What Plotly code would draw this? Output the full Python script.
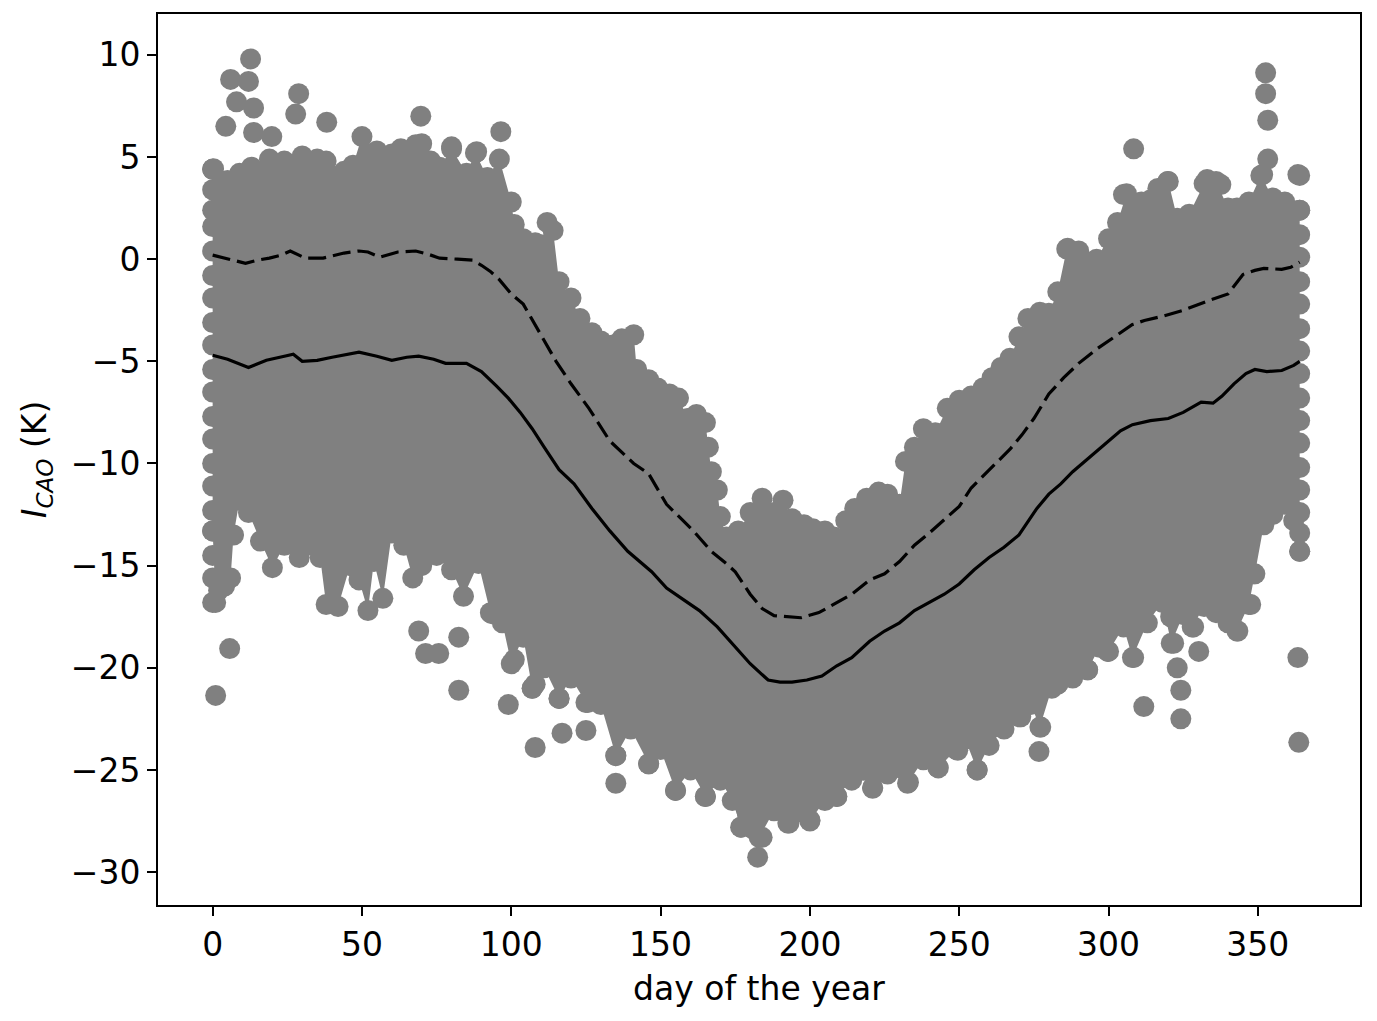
"""Daily I_CAO scatter with the climatological mean (solid) and mean + 1 std (dashed)."""
import plotly.graph_objects as go

GRAY = "#808080"
FONT = "DejaVu Sans"

# upper / lower edge of the dense cloud of daily values (K)
UP_DAY = [0, 2, 5, 9, 13, 19, 24, 30, 35, 38, 44, 47, 50, 55, 60, 63, 68, 73, 76, 80,
          85, 88, 92, 96, 100, 101, 104, 108, 110, 112, 114, 116, 120, 123, 127, 130, 134, 137, 141, 142,
          146, 149, 153, 156, 159, 162, 165, 166, 167, 169, 170, 172, 176, 180, 184, 188, 191, 194, 198, 201,
          205, 208, 212, 215, 219, 223, 226, 230, 232, 235, 238, 242, 246, 250, 254, 258, 261, 264, 267, 270,
          273, 277, 280, 283, 286, 290, 293, 296, 300, 303, 306, 309, 311, 314, 317, 320, 323, 327, 332, 336,
          340, 343, 347, 351, 355, 359, 364]
UP_VAL = [4.4, 3.5, 3.85, 4.2, 4.5, 4.9, 4.8, 5.05, 4.9, 4.8, 4.3, 4.6, 6.0, 5.3, 5.15, 5.4, 5.6, 4.8, 4.5, 5.4,
          4.2, 5.2, 4.0, 4.9, 2.8, 1.7, 1.0, 0.8, 0.7, 1.8, 1.4, -1.1, -1.9, -2.9, -3.6, -4.0, -4.2, -3.9, -3.7, -5.4,
          -5.9, -6.3, -6.6, -6.8, -7.8, -7.6, -8.0, -9.2, -10.4, -11.3, -12.6, -13.6, -13.3, -12.4, -11.7, -12.4, -11.8, -12.7, -13.0, -13.2,
          -13.3, -13.6, -12.8, -12.2, -11.7, -11.4, -11.5, -12.0, -9.9, -9.2, -8.3, -8.5, -7.3, -6.9, -6.7, -6.3, -5.8, -5.3, -4.85, -3.8,
          -2.9, -2.6, -2.65, -1.6, 0.5, 0.4, -0.2, 0.0, 1.0, 1.8, 3.2, 2.6, 2.8, 2.9, 3.4, 3.8, 2.0, 2.2, 3.7, 3.8,
          2.5, 2.5, 2.8, 4.1, 3.0, 2.8, 2.4]

LOW_DAY = [0, 1, 4, 6, 7, 9, 12, 16, 20, 24, 29, 33, 36, 38, 42, 46, 49, 52, 54, 57, 60,
           64, 67, 70, 75, 80, 84, 89, 93, 97, 100, 104, 107, 111, 116, 120, 125, 130, 135, 140, 146,
           150, 155, 160, 165, 170, 174, 177, 183, 188, 193, 200, 205, 209, 214, 218, 221, 226, 233, 238, 243,
           249, 252, 256, 260, 265, 270, 274, 277, 281, 283, 288, 293, 297, 300, 305, 308, 313, 318, 321, 325,
           328, 332, 336, 340, 343, 347, 349, 352, 355, 359, 362, 364]
LOW_VAL = [-13.3, -16.8, -16.0, -15.6, -13.5, -11.8, -12.4, -13.8, -15.1, -14.0, -14.6, -14.0, -14.6, -16.9, -17.0, -15.0, -15.7, -17.2, -14.8, -16.6, -13.4,
           -14.0, -15.6, -15.0, -14.5, -15.2, -16.5, -14.9, -17.3, -17.8, -19.8, -18.5, -21.0, -20.0, -21.5, -20.5, -21.7, -21.8, -24.3, -23.0, -24.7,
           -24.0, -26.0, -25.0, -26.3, -25.5, -26.5, -27.8, -28.3, -27.0, -27.6, -27.5, -26.5, -26.3, -25.5, -25.0, -25.9, -25.2, -25.6, -24.5, -24.9,
           -24.0, -23.5, -25.0, -23.8, -23.0, -22.4, -21.8, -22.9, -21.0, -20.8, -20.5, -20.1, -19.0, -19.2, -18.0, -19.5, -17.8, -16.8, -18.8, -17.4,
           -18.0, -17.0, -17.3, -17.8, -18.2, -16.9, -15.4, -13.0, -12.5, -12.0, -12.8, -14.3]

# first and last day of the year are full columns of points
FIRST_DAY_VAL = [4.4, 3.4, 2.4, 1.6, 0.4, -0.8, -1.9, -3.1, -4.2, -5.4, -6.5, -7.7, -8.8, -10.0, -11.1, -12.3, -13.3,
                 -14.5, -15.6, -16.8]
LAST_DAY_VAL = [4.1, 2.4, 1.2, 0.1, -1.1, -2.2, -3.4, -4.5, -5.6, -6.8, -7.9, -9.0, -10.2, -11.3, -12.4, -13.4, -14.3]

# isolated points sticking out of the cloud
OUT_DAY = [12.7, 6, 12, 8, 13.7, 4.4, 13.7, 19.8, 28.8, 27.8, 38.2, 69.7, 70, 80, 88.4, 96.5, 0.3,
           308.4, 305, 352.6, 352.6, 353.3, 353.3, 351.6, 363.4, 333, 337.6, 316.5, 319.8, 286.3,
           1, 5.7, 2, 69, 71.3, 75.7, 82.4, 82.4, 93.4, 99, 108, 108, 117, 125, 125.6, 101, 107, 116,
           135, 135, 146, 155, 165, 176.8, 179, 181, 184, 182.5,
           192.6, 200, 209, 218, 221, 232.7, 242.8, 249.5,
           256, 276.7, 277.3, 270.6, 283, 293, 299.7, 308.4, 311.8, 324.2, 324.2, 323, 321.8, 330.2, 320.8, 328.5,
           343.3, 347.6, 348.6, 363.4, 363.7]
OUT_VAL = [9.8, 8.8, 8.7, 7.7, 7.4, 6.5, 6.2, 6.0, 8.1, 7.1, 6.7, 7.0, 5.65, 5.5, 5.26, 6.24, 4.43,
           5.4, 3.16, 9.12, 8.1, 6.8, 4.9, 4.14, 4.14, 3.9, 3.65, 3.46, 3.8, 0.53,
           -21.35, -19.06, -16.2, -18.2, -19.3, -19.3, -18.5, -21.1, -17.35, -21.8, -20.8, -23.9, -23.2, -23.07, -21.7, -19.6, -21.0, -21.5,
           -24.3, -25.65, -24.7, -26.0, -26.3, -27.8, -27.1, -27.9, -28.3, -29.27,
           -27.6, -27.46, -26.3, -25.0, -25.85, -25.65, -24.87, -24.04,
           -25.0, -24.1, -22.9, -22.4, -20.8, -20.1, -19.2, -19.5, -21.9, -22.5, -21.1, -20.0, -18.8, -19.2, -17.5, -18.0,
           -18.2, -16.9, -15.4, -19.5, -23.65]

# daily climatology: mean and mean + 1 standard deviation
MEAN_DAY = [0, 5, 12, 18, 24, 27, 30, 35, 40, 45, 49, 55, 60, 65, 69, 74, 78, 85, 90, 95,
            99, 103, 107, 111, 116, 121, 127, 133, 139, 147, 152, 158, 163, 169, 175, 180, 186, 190, 194, 199,
            204, 209, 214, 220, 225, 230, 235, 240, 245, 250, 255, 260, 265, 270, 276, 280, 284, 288, 292, 296,
            300, 304, 308, 314, 320, 325, 331, 335, 338, 342, 346, 349, 353, 358, 362, 364]
MEAN_VAL = [-4.7, -4.9, -5.3, -4.95, -4.75, -4.65, -5.0, -4.95, -4.8, -4.65, -4.55, -4.75, -4.95, -4.8, -4.75, -4.9, -5.1, -5.1, -5.5, -6.2,
            -6.8, -7.5, -8.3, -9.2, -10.3, -11.0, -12.2, -13.3, -14.3, -15.3, -16.1, -16.7, -17.2, -18.0, -19.0, -19.8, -20.6, -20.7, -20.7, -20.6,
            -20.4, -19.9, -19.5, -18.7, -18.2, -17.8, -17.2, -16.8, -16.4, -15.9, -15.2, -14.6, -14.1, -13.5, -12.2, -11.5, -11.0, -10.4, -9.9, -9.4,
            -8.9, -8.4, -8.1, -7.9, -7.8, -7.5, -7.0, -7.05, -6.7, -6.1, -5.6, -5.4, -5.5, -5.45, -5.2, -5.0]

STD_DAY = [0, 6, 11, 15, 19, 23, 26, 31, 37, 44, 49, 52, 56, 62, 68, 72, 76, 82, 87, 90,
           93, 96, 100, 104, 109, 115, 120, 126, 133, 141, 146, 152, 161, 167, 172, 175, 180, 184, 188, 193,
           197, 203, 208, 214, 220, 225, 230, 235, 240, 247, 250, 254, 258, 262, 267, 271, 275, 280, 285, 290,
           296, 302, 308, 312, 318, 325, 330, 334, 340, 345, 349, 352, 358, 361, 364]
STD_VAL = [0.2, 0.0, -0.2, -0.05, 0.05, 0.2, 0.4, 0.05, 0.05, 0.3, 0.4, 0.35, 0.1, 0.35, 0.4, 0.25, 0.05, 0.0, -0.05, -0.3,
           -0.6, -1.0, -1.7, -2.2, -3.5, -5.0, -6.1, -7.3, -8.9, -10.0, -10.5, -12.0, -13.3, -14.3, -14.9, -15.3, -16.4, -17.1, -17.45, -17.5,
           -17.55, -17.3, -16.9, -16.4, -15.7, -15.4, -14.8, -14.0, -13.4, -12.5, -12.1, -11.2, -10.6, -10.0, -9.3, -8.6, -7.8, -6.6, -5.8, -5.1,
           -4.4, -3.8, -3.2, -3.0, -2.8, -2.5, -2.2, -2.0, -1.7, -0.75, -0.55, -0.45, -0.5, -0.4, -0.15]

X_TICKS = [0, 50, 100, 150, 200, 250, 300, 350]
Y_TICKS = [-30, -25, -20, -15, -10, -5, 0, 5, 10]


def main() -> None:
    fig = go.Figure()

    # dense core of the cloud
    fig.add_trace(go.Scatter(
        x=UP_DAY + LOW_DAY[::-1],
        y=UP_VAL + LOW_VAL[::-1],
        fill="toself",
        fillcolor=GRAY,
        mode="lines",
        line=dict(width=0, color=GRAY),
        hoverinfo="skip",
        showlegend=False,
    ))

    pts_x = (UP_DAY + LOW_DAY + [0] * len(FIRST_DAY_VAL) + [364] * len(LAST_DAY_VAL) + OUT_DAY)
    pts_y = (UP_VAL + LOW_VAL + FIRST_DAY_VAL + LAST_DAY_VAL + OUT_VAL)
    fig.add_trace(go.Scatter(
        x=pts_x, y=pts_y, mode="markers",
        marker=dict(size=21, color=GRAY, line=dict(width=0)),
        showlegend=False,
    ))

    fig.add_trace(go.Scatter(
        x=MEAN_DAY, y=MEAN_VAL, mode="lines",
        line=dict(color="black", width=3.2), showlegend=False,
    ))
    fig.add_trace(go.Scatter(
        x=STD_DAY, y=STD_VAL, mode="lines",
        line=dict(color="black", width=3.2, dash="18px,7px"), showlegend=False,
    ))

    axis = dict(
        showline=True, mirror=True, linecolor="black", linewidth=1.8,
        ticks="outside", ticklen=9, tickwidth=1.8, tickcolor="black",
        showgrid=False, zeroline=False,
        tickfont=dict(family=FONT, size=33, color="black"),
    )
    fig.update_xaxes(
        **axis, range=[-18.3, 384.2], tickvals=X_TICKS,
        title=dict(text="day of the year", font=dict(family=FONT, size=33, color="black"), standoff=14),
    )
    fig.update_yaxes(
        **axis, range=[-31.61, 12.0], tickvals=Y_TICKS,
        ticktext=[f"{v}".replace("-", "\u2212") for v in Y_TICKS],
        title=dict(text="<i>I</i><sub><i>CAO</i></sub> (K)",
                   font=dict(family=FONT, size=33, color="black"), standoff=14),
    )
    # the page body adds an 8 px offset, so the figure is trimmed by that much
    fig.update_layout(
        width=1369, height=1013,
        margin=dict(l=150, r=17, t=4, b=116),
        plot_bgcolor="white", paper_bgcolor="white",
        font=dict(family=FONT, color="black"),
    )

    fig.write_html("out.html")


if __name__ == "__main__":
    main()
